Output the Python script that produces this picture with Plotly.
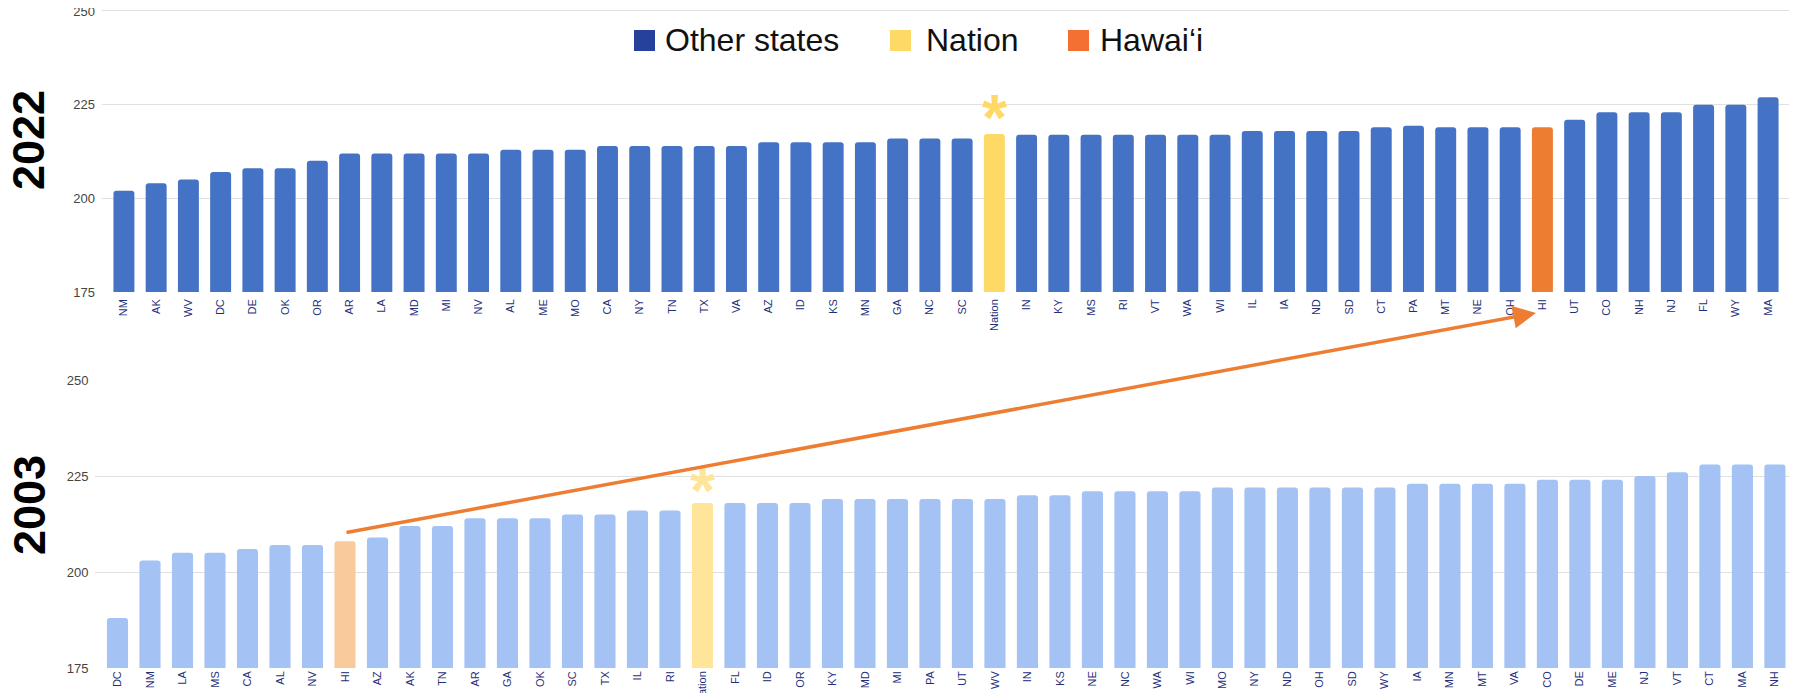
import plotly.graph_objects as go

# ---------------- data ----------------
states_2022 = ["NM", "AK", "WV", "DC", "DE", "OK", "OR", "AR", "LA", "MD", "MI", "NV", "AL",
               "ME", "MO", "CA", "NY", "TN", "TX", "VA", "AZ", "ID", "KS", "MN", "GA", "NC",
               "SC", "Nation", "IN", "KY", "MS", "RI", "VT", "WA", "WI", "IL", "IA", "ND", "SD",
               "CT", "PA", "MT", "NE", "OH", "HI", "UT", "CO", "NH", "NJ", "FL", "WY", "MA"]
scores_2022 = [202, 204, 205, 207, 208, 208, 210, 212, 212, 212, 212, 212, 213,
               213, 213, 214, 214, 214, 214, 214, 215, 215, 215, 215, 216, 216,
               216, 217.2, 217, 217, 217, 217, 217, 217, 217, 218, 218, 218, 218,
               219, 219.4, 219, 219, 219, 219, 221, 223, 223, 223, 225, 225, 227]

states_2003 = ["DC", "NM", "LA", "MS", "CA", "AL", "NV", "HI", "AZ", "AK", "TN", "AR", "GA",
               "OK", "SC", "TX", "IL", "RI", "Nation", "FL", "ID", "OR", "KY", "MD", "MI", "PA",
               "UT", "WV", "IN", "KS", "NE", "NC", "WA", "WI", "MO", "NY", "ND", "OH", "SD",
               "WY", "IA", "MN", "MT", "VA", "CO", "DE", "ME", "NJ", "VT", "CT", "MA", "NH"]
scores_2003 = [188, 203, 205, 205, 206, 207, 207, 208, 209, 212, 212, 214, 214,
               214, 215, 215, 216, 216, 218, 218, 218, 218, 219, 219, 219, 219,
               219, 219, 220, 220, 221, 221, 221, 221, 222, 222, 222, 222, 222,
               222, 223, 223, 223, 223, 224, 224, 224, 225, 226, 228, 228, 228]

y_ticks = [175, 200, 225, 250]
legend_labels = ["Other states", "Nation", "Hawai\u2018i"]
year_labels = ["2022", "2003"]

# ---------------- style ----------------
PAGE_W, PAGE_H = 1797, 693
OFF = 8                       # default page margin around the plot div
W, H = PAGE_W - OFF, PAGE_H - OFF
FONT = "Liberation Sans, Arial, sans-serif"
XR = [-0.68, 51.68]
YR_TOP = [175, 250.7]
YR_BOT = [175, 250]


def px_x(px):
    return (px - OFF) / W


def px_y(py):
    return 1 - (py - OFF) / H


top_px_per_unit = (292 - 11) / 75.0
top_dom_x = [px_x(102), px_x(1790)]
top_dom_y = [px_y(292), px_y(292 - (YR_TOP[1] - YR_TOP[0]) * top_px_per_unit)]
bot_dom_x = [px_x(95.4), 1.0]
bot_dom_y = [px_y(668), px_y(380)]

col_top = {"other": "#4472C4", "Nation": "#FFD966", "HI": "#ED7D31"}
col_bot = {"other": "#A4C2F4", "Nation": "#FFE599", "HI": "#F9CB9C"}
legend_colors = ["#26419A", "#FFD966", "#F37032"]


def colors_for(states, pal):
    return [pal.get(s, pal["other"]) for s in states]


fig = go.Figure()
fig.add_trace(go.Bar(x=states_2022, y=scores_2022, xaxis="x", yaxis="y",
                     marker=dict(color=colors_for(states_2022, col_top), cornerradius=3,
                                 line=dict(width=0)),
                     showlegend=False, hoverinfo="x+y"))
fig.add_trace(go.Bar(x=states_2003, y=scores_2003, xaxis="x2", yaxis="y2",
                     marker=dict(color=colors_for(states_2003, col_bot), cornerradius=3,
                                 line=dict(width=0)),
                     showlegend=False, hoverinfo="x+y"))

xcommon = dict(type="category", range=XR, tickangle=-90, showgrid=False, zeroline=False,
               ticks="", showline=False, automargin=False, ticklabeloverflow="allow",
               tickfont=dict(family=FONT, size=11, color="#1F2F7A"))
ycommon = dict(tickvals=y_ticks, showgrid=True, gridcolor="#E0E0E0", gridwidth=1,
               zeroline=False, showline=False, ticks="", ticklabelstandoff=6, automargin=False,
               ticklabeloverflow="allow",
               tickfont=dict(family=FONT, size=13, color="#444444"))

fig.update_layout(
    width=W, height=H, margin=dict(l=0, r=0, t=0, b=0, pad=0), autosize=False,
    paper_bgcolor="white", plot_bgcolor="white", bargap=0.35,
    xaxis=dict(domain=top_dom_x, anchor="y", ticklabelstandoff=4, **xcommon),
    yaxis=dict(domain=top_dom_y, anchor="x", range=YR_TOP, **ycommon),
    xaxis2=dict(domain=bot_dom_x, anchor="y2", ticklabelstandoff=0, **xcommon),
    yaxis2=dict(domain=bot_dom_y, anchor="x2", range=YR_BOT, **ycommon),
)


def cat_paper(idx, dom):
    return dom[0] + (idx - XR[0]) / (XR[1] - XR[0]) * (dom[1] - dom[0])


def val_paper(v, dom, yr):
    return dom[0] + (v - yr[0]) / (yr[1] - yr[0]) * (dom[1] - dom[0])


annotations = []
shapes = []

# legend (squares + text)
leg_sq_x = [634, 890, 1068]
leg_txt_x = [663, 924, 1098]
for lab, c, sx, tx in zip(legend_labels, legend_colors, leg_sq_x, leg_txt_x):
    shapes.append(dict(type="rect", xref="paper", yref="paper",
                       x0=px_x(sx), x1=px_x(sx + 21), y0=px_y(51), y1=px_y(30),
                       fillcolor=c, line=dict(width=0)))
    annotations.append(dict(text=lab, xref="paper", yref="paper", x=px_x(tx), y=px_y(40),
                            xanchor="left", yanchor="middle", showarrow=False,
                            font=dict(family=FONT, size=32, color="#111111")))

# year labels
for lab, cy in zip(year_labels, [140, 505]):
    annotations.append(dict(text="<b>%s</b>" % lab, xref="paper", yref="paper",
                            x=px_x(29), y=px_y(cy), xanchor="center", yanchor="middle",
                            textangle=-90, showarrow=False,
                            font=dict(family=FONT, size=45, color="#000000")))

# asterisks over the Nation bars
n22 = states_2022.index("Nation")
n03 = states_2003.index("Nation")
annotations.append(dict(text="<b>*</b>", xref="x", yref="y", x="Nation", y=scores_2022[n22],
                        xanchor="center", yanchor="bottom", yshift=-22, showarrow=False,
                        font=dict(family=FONT, size=64, color="#FFD966")))
annotations.append(dict(text="<b>*</b>", xref="x2", yref="y2", x="Nation", y=scores_2003[n03],
                        xanchor="center", yanchor="bottom", yshift=-26, showarrow=False,
                        font=dict(family=FONT, size=64, color="#FFE599")))

# arrow from Hawai'i 2003 to Hawai'i 2022
h22 = states_2022.index("HI")
h03 = states_2003.index("HI")
tip_x = cat_paper(h22 - 0.2, top_dom_x)
tip_y = val_paper(YR_TOP[0] - 5.6, top_dom_y, YR_TOP)
tail_x = cat_paper(h03, bot_dom_x)
tail_y = val_paper(scores_2003[h03] + 2.2, bot_dom_y, YR_BOT)
annotations.append(dict(text="", xref="paper", yref="paper", x=tip_x, y=tip_y,
                        axref="pixel", ayref="pixel",
                        ax=(tail_x - tip_x) * W, ay=(tip_y - tail_y) * H,
                        showarrow=True, arrowhead=2, arrowsize=1.3, arrowwidth=3.5,
                        arrowcolor="#ED7D31", standoff=0, startstandoff=0))

fig.update_layout(annotations=annotations, shapes=shapes)
fig.write_html("out.html")
